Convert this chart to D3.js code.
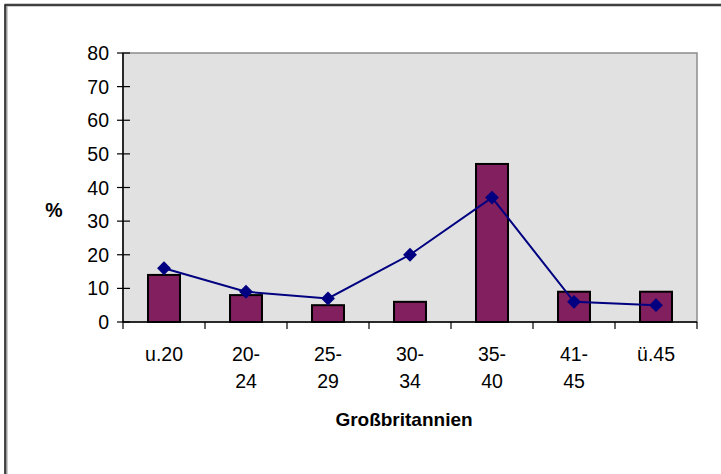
<!DOCTYPE html>
<html>
<head>
<meta charset="utf-8">
<script src="https://cdn.jsdelivr.net/npm/d3@7"></script>
<style>
  html, body { margin: 0; padding: 0; background: #fff; }
  svg { display: block; }
  text { font-family: "Liberation Sans", Arial, sans-serif; fill: #000; }
</style>
</head>
<body>
<svg id="chart" width="721" height="474"></svg>
<script>
const categories = ["u.20", "20-24", "25-29", "30-34", "35-40", "41-45", "ü.45"];
const categoryLines = [["u.20"], ["20-", "24"], ["25-", "29"], ["30-", "34"], ["35-", "40"], ["41-", "45"], ["ü.45"]];
const barValues = [14, 8, 5, 6, 47, 9, 9];
const lineValues = [16, 9, 7, 20, 37, 6, 5];
const yTicks = [0, 10, 20, 30, 40, 50, 60, 70, 80];
const yLabel = "%";
const xTitle = "Großbritannien";

const svg = d3.select("#chart");
const pLeft = 123, pRight = 697, pTop = 53, pBottom = 322;

// outer chart border (extends beyond the picture)
svg.append("rect").attr("x", 6).attr("y", 5).attr("width", 740).attr("height", 500)
  .attr("fill", "none").attr("stroke", "#9a9a9a").attr("stroke-width", 3);
svg.append("rect").attr("x", 5).attr("y", 5).attr("width", 740).attr("height", 500)
  .attr("fill", "none").attr("stroke", "#222").attr("stroke-width", 1.5);

const x = d3.scaleBand().domain(categories).range([pLeft, pRight]).paddingInner(0).paddingOuter(0);
const y = d3.scaleLinear().domain([0, 80]).range([pBottom, pTop]);
const cx = i => x(categories[i]) + x.bandwidth() / 2;

// plot area
svg.append("rect").attr("x", pLeft).attr("y", pTop).attr("width", pRight - pLeft).attr("height", pBottom - pTop)
  .attr("fill", "#e1e1e1").attr("stroke", "#8c8c8c").attr("stroke-width", 1.5);

// bars
const bw = x.bandwidth() * 0.39;
svg.append("g").selectAll("rect").data(barValues).join("rect")
  .attr("x", (d, i) => cx(i) - bw / 2)
  .attr("y", d => y(d))
  .attr("width", bw)
  .attr("height", d => y(0) - y(d))
  .attr("fill", "#821f5e")
  .attr("stroke", "#000").attr("stroke-width", 2);

// y axis
const yAxis = svg.append("g").attr("transform", `translate(${pLeft},0)`);
yAxis.append("line").attr("x1", 0).attr("x2", 0).attr("y1", pTop).attr("y2", pBottom)
  .attr("stroke", "#000").attr("stroke-width", 1.5);
yAxis.selectAll("line.tick").data(yTicks).join("line").attr("class", "tick")
  .attr("x1", -6).attr("x2", 7).attr("y1", d => y(d)).attr("y2", d => y(d))
  .attr("stroke", "#000").attr("stroke-width", 1.2);
yAxis.selectAll("text").data(yTicks).join("text")
  .attr("x", -14).attr("y", d => y(d)).attr("dy", "0.36em")
  .attr("text-anchor", "end").style("font-size", "19.5px").text(d => d);

// x axis
const xAxis = svg.append("g");
xAxis.append("line").attr("x1", pLeft).attr("x2", pRight).attr("y1", pBottom).attr("y2", pBottom)
  .attr("stroke", "#000").attr("stroke-width", 1.5);
const bounds = categories.map(c => x(c)).concat([x(categories[categories.length - 1]) + x.bandwidth()]);
xAxis.selectAll("line.tick").data(bounds).join("line").attr("class", "tick")
  .attr("x1", d => d).attr("x2", d => d).attr("y1", pBottom).attr("y2", pBottom + 7)
  .attr("stroke", "#000").attr("stroke-width", 1.2);
const xl = xAxis.selectAll("text").data(categoryLines).join("text")
  .attr("text-anchor", "middle").style("font-size", "19.5px")
  .attr("transform", (d, i) => `translate(${cx(i)},361)`);
xl.selectAll("tspan").data(d => d).join("tspan")
  .attr("x", 0).attr("y", (d, j) => j * 27).text(d => d);

// line series
const line = d3.line().x((d, i) => cx(i)).y(d => y(d));
svg.append("path").datum(lineValues).attr("d", line)
  .attr("fill", "none").attr("stroke", "#000080").attr("stroke-width", 2);
svg.append("g").selectAll("path").data(lineValues).join("path")
  .attr("d", d3.symbol(d3.symbolSquare, 96))
  .attr("transform", (d, i) => `translate(${cx(i)},${y(d)}) rotate(45)`)
  .attr("fill", "#000080");

// labels
svg.append("text").attr("x", 54).attr("y", 217).attr("text-anchor", "middle")
  .style("font-size", "19.5px").style("font-weight", "bold").text(yLabel);
svg.append("text").attr("x", 404).attr("y", 426).attr("text-anchor", "middle")
  .style("font-size", "19px").style("font-weight", "bold").text(xTitle);
</script>
</body>
</html>
